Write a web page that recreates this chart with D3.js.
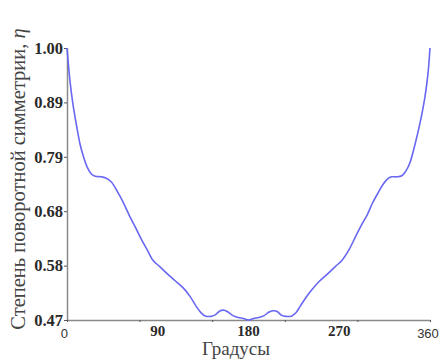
<!DOCTYPE html>
<html lang="ru">
<head>
    <meta charset="UTF-8">
    <title>Степень поворотной симметрии</title>
    <script src="https://d3js.org/d3.v7.min.js"></script>
    <style>
        body { margin: 0; background: #fff; }
        svg { display: block; }
        .serif { font-family: "Liberation Serif", "DejaVu Serif", serif; }
    </style>
</head>
<body>
<div id="chart"></div>
<script>
    // angle (degrees) and rotational symmetry degree
    const degrees = [0, 3, 6, 10, 13, 17, 20, 24, 28, 34, 38, 44, 50, 55, 62, 68, 73, 80, 85, 92,
        99, 107, 115, 122, 128, 133, 137, 143, 147, 152, 156, 160, 165, 170, 175, 180,
        185, 190, 195, 200, 204, 208, 213, 217, 223, 227, 231, 237, 242, 250, 259, 266,
        273, 280, 286, 292, 298, 303, 308, 313, 318, 322, 327, 332, 336, 340, 345, 350,
        355, 358, 360];
    const eta = [1.000, 0.935, 0.889, 0.843, 0.812, 0.784, 0.768, 0.755, 0.750, 0.749, 0.747, 0.739,
        0.720, 0.702, 0.673, 0.650, 0.630, 0.605, 0.587, 0.574, 0.561, 0.547, 0.533, 0.516,
        0.497, 0.484, 0.478, 0.477, 0.480, 0.488, 0.489, 0.485, 0.478, 0.475, 0.473, 0.470,
        0.473, 0.475, 0.478, 0.485, 0.488, 0.487, 0.479, 0.477, 0.478, 0.484, 0.496, 0.514,
        0.527, 0.545, 0.561, 0.574, 0.587, 0.608, 0.632, 0.655, 0.676, 0.698, 0.716, 0.733,
        0.745, 0.749, 0.749, 0.751, 0.760, 0.776, 0.811, 0.853, 0.905, 0.950, 1.000];

    const yTicks = [0.47, 0.576, 0.682, 0.788, 0.894, 1.00];
    const xTickMarks = [0, 72, 144, 216, 288, 360];
    const xLabelsBold = [90, 180, 270];
    const xLabelsPlain = [0, 360];

    const W = 440, H = 360;
    const svg = d3.select("#chart").append("svg")
        .attr("width", W).attr("height", H);

    const x = d3.scaleLinear().domain([0, 360]).range([67, 430]);
    const y = d3.scaleLinear().domain([0.47, 1.00]).range([320, 48]);

    const axisColor = "#8a8a8a";

    // y axis
    const yAxis = svg.append("g")
        .attr("transform", `translate(${x(0)},0)`)
        .call(d3.axisLeft(y).tickValues(yTicks).tickFormat(d3.format(".2f")).tickSize(3).tickSizeOuter(0));
    yAxis.select(".domain").attr("stroke", axisColor).attr("stroke-width", 1.5);
    yAxis.selectAll(".tick line").attr("stroke", "#555");
    yAxis.selectAll(".tick text")
        .attr("class", "serif")
        .attr("x", -4)
        .style("font-size", "16.5px")
        .style("font-weight", "bold")
        .attr("fill", "#2a2a2a");

    // x axis (tick marks only)
    const xAxis = svg.append("g")
        .attr("transform", `translate(0,${y(0.47)})`)
        .call(d3.axisBottom(x).tickValues(xTickMarks).tickFormat("").tickSize(2).tickSizeOuter(0));
    xAxis.select(".domain").attr("stroke", axisColor).attr("stroke-width", 1.5);
    xAxis.selectAll(".tick line").attr("stroke", "#555");

    // x labels
    svg.selectAll(".xlb").data(xLabelsBold).enter().append("text")
        .attr("class", "serif")
        .attr("x", d => x(d))
        .attr("y", 336)
        .attr("text-anchor", "middle")
        .style("font-size", "15px")
        .style("font-weight", "bold")
        .attr("fill", "#2a2a2a")
        .text(d => d);

    svg.selectAll(".xlp").data(xLabelsPlain).enter().append("text")
        .attr("x", d => x(d))
        .attr("y", 338)
        .attr("text-anchor", (d, i) => i === 0 ? "end" : "middle")
        .attr("dx", (d, i) => i === 0 ? 1 : -2)
        .style("font-family", "'Liberation Sans', Arial, sans-serif")
        .style("font-size", "13px")
        .attr("fill", "#333")
        .text(d => d);

    // axis titles
    svg.append("text")
        .attr("class", "serif")
        .attr("x", 236)
        .attr("y", 355)
        .attr("text-anchor", "middle")
        .style("font-size", "19px")
        .attr("fill", "#444")
        .text("Градусы");

    const yl = svg.append("text")
        .attr("class", "serif")
        .attr("transform", "translate(25,179) rotate(-90)")
        .attr("text-anchor", "middle")
        .style("font-size", "20.5px")
        .attr("fill", "#444");
    yl.append("tspan").text("Степень поворотной симметрии, ");
    yl.append("tspan").style("font-style", "italic").text("η");

    // curve
    const pts = degrees.map((d, i) => [d, eta[i]]);
    svg.append("path")
        .datum(pts)
        .attr("fill", "none")
        .attr("stroke", "#6868f2")
        .attr("stroke-width", 1.6)
        .attr("d", d3.line().x(d => x(d[0])).y(d => y(d[1])).curve(d3.curveCatmullRom));
</script>
</body>
</html>
